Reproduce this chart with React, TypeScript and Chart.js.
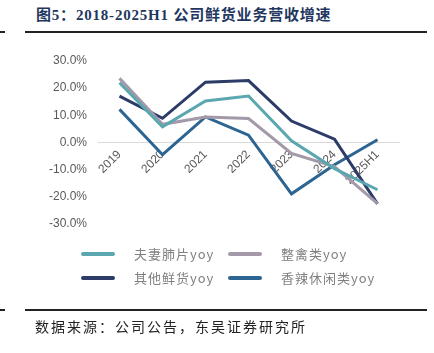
import React, { useEffect, useRef } from "react";
import { Chart, registerables } from "chart.js";

Chart.register(...registerables);

const categories = ["2019", "2020", "2021", "2022", "2023", "2024", "2025H1"];
const seriesNames = ["夫妻肺片yoy", "整禽类yoy", "其他鲜货yoy", "香辣休闲类yoy"];
const fuqiValues = [22.0, 5.8, 15.3, 17.1, 0.6, -9.6, -17.4];
const poultryValues = [23.6, 6.7, 9.4, 8.8, -4.0, -8.9, -22.5];
const otherValues = [17.1, 8.9, 22.2, 22.8, 7.9, 1.2, -22.6];
const spicyValues = [12.2, -4.5, 9.4, 2.7, -18.9, -8.2, 1.0];
const seriesColors = ["#5AA7B0", "#A499A9", "#2C3B68", "#2C6592"];
const yTicks = [-30, -20, -10, 0, 10, 20, 30];

const title = "图5：2018-2025H1 公司鲜货业务营收增速";
const source = "数据来源：公司公告，东吴证券研究所";

export default function App() {
  const ref = useRef<HTMLCanvasElement | null>(null);

  useEffect(() => {
    if (!ref.current) return;
    const values = [fuqiValues, poultryValues, otherValues, spicyValues];
    const chart = new Chart(ref.current, {
      type: "line",
      data: {
        labels: categories,
        datasets: seriesNames.map((name, i) => ({
          label: name,
          data: values[i],
          borderColor: seriesColors[i],
          backgroundColor: seriesColors[i],
          borderWidth: 3,
          pointRadius: 0,
          tension: 0,
          fill: false,
        })),
      },
      options: {
        responsive: false,
        animation: false,
        layout: { padding: { left: 0, right: 35, top: 61, bottom: 129 } },
        plugins: { legend: { display: false }, tooltip: { enabled: false } },
        scales: {
          x: {
            position: { y: 0 } as any,
            offset: true,
            grid: { display: false, drawTicks: false },
            border: { display: true, color: "#D9D9D9", width: 1 },
            ticks: {
              minRotation: 45,
              maxRotation: 45,
              autoSkip: false,
              padding: 5,
              color: "#595959",
              font: { family: "'Liberation Sans', Arial, sans-serif", size: 12 },
            },
          },
          y: {
            min: -30,
            max: 30,
            afterFit: (s: any) => {
              s.width = 98;
            },
            afterBuildTicks: (s: any) => {
              s.ticks = yTicks.map((v) => ({ value: v }));
            },
            grid: { display: false, drawTicks: false },
            border: { display: false },
            ticks: {
              padding: 11,
              color: "#595959",
              font: { family: "'Liberation Sans', Arial, sans-serif", size: 12 },
              callback: (v: any) => `${Number(v).toFixed(1)}%`,
            },
          },
        },
      },
    });
    return () => chart.destroy();
  }, []);

  const legendCols = [81, 228];
  const legendRows = [253.5, 277.5];

  return (
    <div
      style={{
        position: "fixed",
        left: 0,
        top: 0,
        width: 434,
        height: 353,
        background: "#fff",
        overflow: "hidden",
      }}
    >
      <div
        style={{
          position: "absolute",
          left: 36,
          top: 6,
          fontFamily: "'Liberation Serif', 'Times New Roman', 'Noto Sans CJK SC', serif",
          fontWeight: 700,
          fontSize: 15,
          letterSpacing: 0.8,
          color: "#1F3760",
          whiteSpace: "nowrap",
          lineHeight: "18px",
        }}
      >
        {title}
      </div>
      <div style={{ position: "absolute", left: 0, top: 31, width: 5, height: 1.5, background: "#222" }} />
      <div style={{ position: "absolute", left: 25, top: 31, width: 402, height: 1.5, background: "#222" }} />
      <canvas
        ref={ref}
        width={434}
        height={353}
        style={{ position: "absolute", left: 0, top: 0, width: 434, height: 353 }}
      />
      {seriesNames.map((name, i) => {
        const x = legendCols[i % 2];
        const y = legendRows[Math.floor(i / 2)];
        return (
          <React.Fragment key={name}>
            <div
              style={{
                position: "absolute",
                left: x,
                top: y - 2,
                width: 34,
                height: 4,
                borderRadius: 2,
                background: seriesColors[i],
              }}
            />
            <div
              style={{
                position: "absolute",
                left: x + 53,
                top: y - 9,
                height: 18,
                lineHeight: "18px",
                fontFamily: "'Noto Sans CJK SC', 'Noto Sans', sans-serif",
                fontSize: 13,
                letterSpacing: 1,
                color: "#7F7F7F",
                whiteSpace: "nowrap",
              }}
            >
              {name}
            </div>
          </React.Fragment>
        );
      })}
      <div style={{ position: "absolute", left: 0, top: 309, width: 5, height: 1.5, background: "#222" }} />
      <div style={{ position: "absolute", left: 25, top: 309, width: 402, height: 1.5, background: "#222" }} />
      <div
        style={{
          position: "absolute",
          left: 35,
          top: 317,
          fontFamily: "'Noto Sans CJK SC', sans-serif",
          fontSize: 14,
          letterSpacing: 2,
          color: "#222",
          whiteSpace: "nowrap",
          lineHeight: "18px",
        }}
      >
        {source}
      </div>
    </div>
  );
}
